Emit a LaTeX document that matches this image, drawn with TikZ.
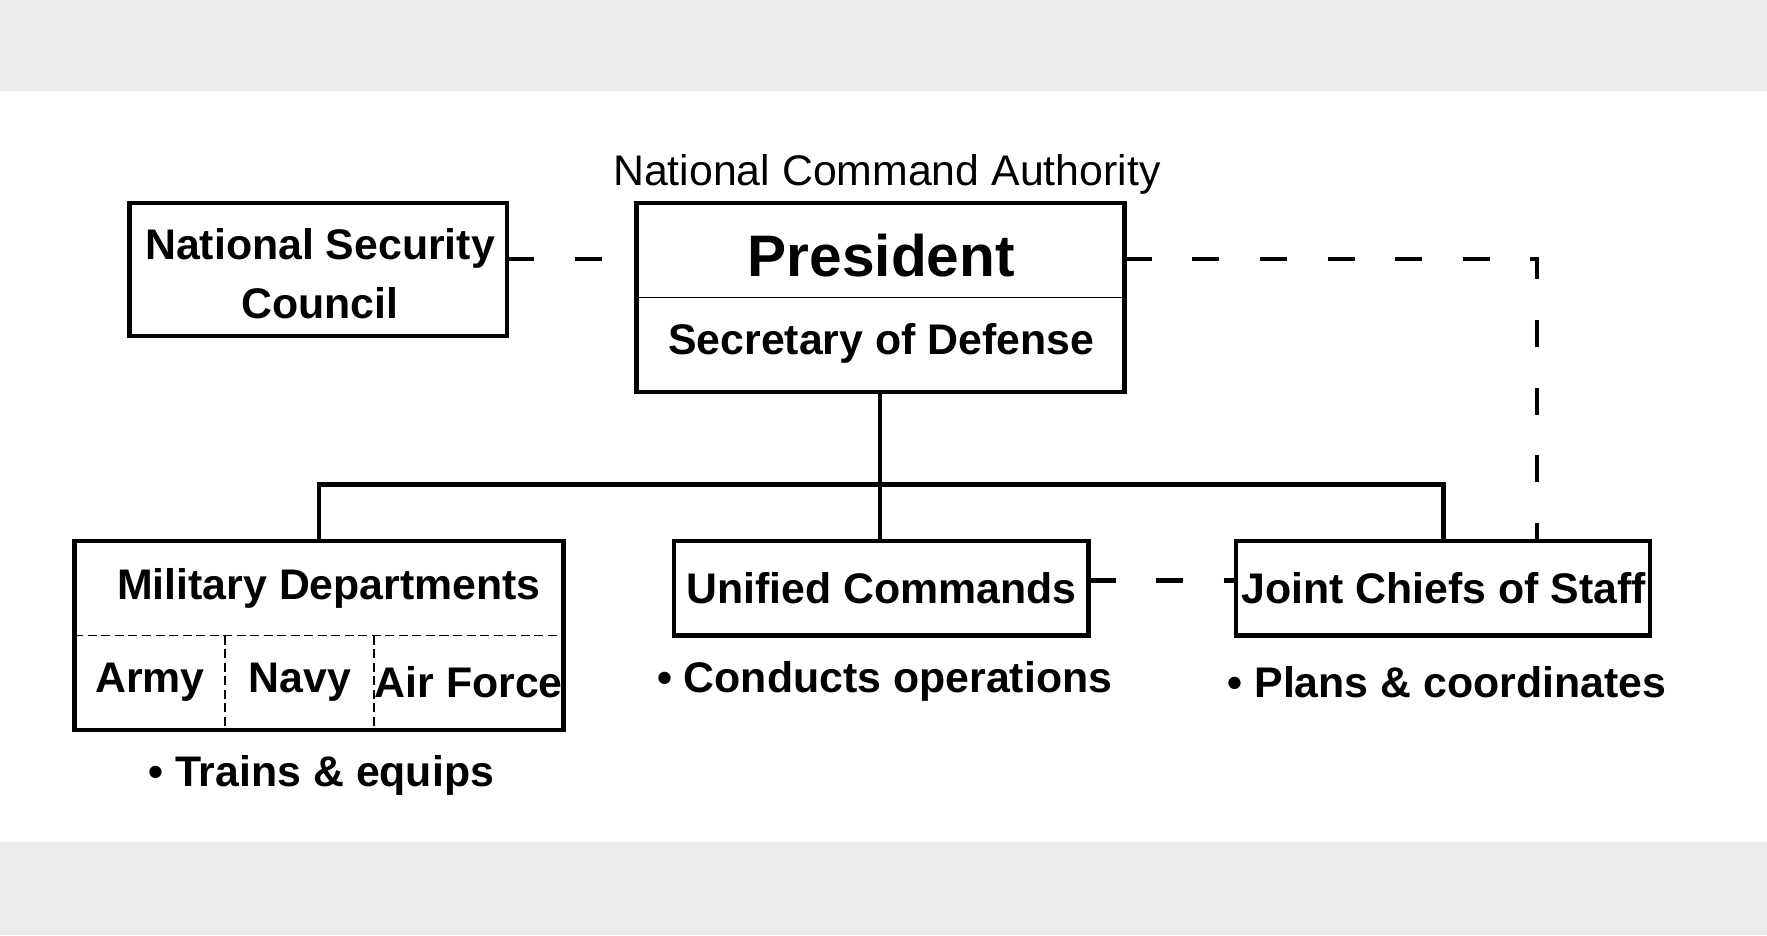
\documentclass[tikz,border=0pt]{standalone}
\usepackage{fontspec}
\setmainfont{Liberation Sans}
\begin{document}
\begin{tikzpicture}[x=0.25pt,y=-0.25pt,
  box/.style={draw,line width=1pt},
  txt/.style={font=\bfseries\fontsize{9.5}{11}\selectfont,inner sep=0},
  dsh/.style={line width=1pt,dash pattern=on 6pt off 9pt},
  con/.style={line width=1pt}]
\fill[gray!15] (0,0) rectangle (1568,830);
\fill[white] (0,81) rectangle (1568,747);
\useasboundingbox (0,0) rectangle (1568,830);
% boxes
\draw[box] (115,180) rectangle (450,298);
\node[txt,align=center] (nsc) at (284,243) {National Security\\[2pt]Council};
\coordinate (nscR) at (450,230);
\draw[box] (565,180) rectangle (998,348);
\draw[line width=0.4pt] (565,264) -- (998,264);
\node[txt,font=\bfseries\fontsize{13}{15}\selectfont] (pres) at (782,227) {President};
\node[txt] (sec) at (782,305) {Secretary of Defense};
\coordinate (presL) at (565,230);
\coordinate (presR) at (998,230);
\coordinate (presB) at (781,348);
\node[txt,font=\fontsize{9.5}{11}\selectfont] (nca) at (787,155) {National Command Authority};
\draw[box] (66,480) rectangle (500,648);
\draw[line width=0.4pt,dash pattern=on 2pt off 1pt] (66,564) -- (500,564) (200,564) -- (200,648) (332,564) -- (332,648);
\node[txt] (md) at (292,522) {Military Departments};
\node[txt] (army) at (133,605) {Army};
\node[txt] (navy) at (266,605) {Navy};
\node[txt] (af) at (416,605) {Air Force};
\draw[box] (598,480) rectangle (966,564);
\node[txt] (uc) at (782,522) {Unified Commands};
\draw[box] (1097,480) rectangle (1464,564);
\node[txt] (jcs) at (1281,522) {Joint Chiefs of Staff};
\coordinate (mdT) at (283,480);
\coordinate (ucT) at (781,480);
\coordinate (jcsT) at (1281,480);
\coordinate (ucR) at (966,515);
\coordinate (jcsL) at (1097,515);
\coordinate (jcsT2) at (1364,480);
\coordinate (bar) at (781,430);
% bullets
\node[txt] (b1) at (785,605) {• Conducts operations};
\node[txt] (b2) at (1284,605) {• Plans \& coordinates};
\node[txt] (b3) at (285,688) {• Trains \& equips};
% connectors
\draw[con] (presB) -- (ucT);
\draw[con] (mdT) |- (bar) -| (jcsT);
\draw[dsh] (nscR) -- (presL);
\draw[dsh] (presR) -| (jcsT2);
\draw[dsh] (ucR) -- (jcsL);
\end{tikzpicture}
\end{document}
